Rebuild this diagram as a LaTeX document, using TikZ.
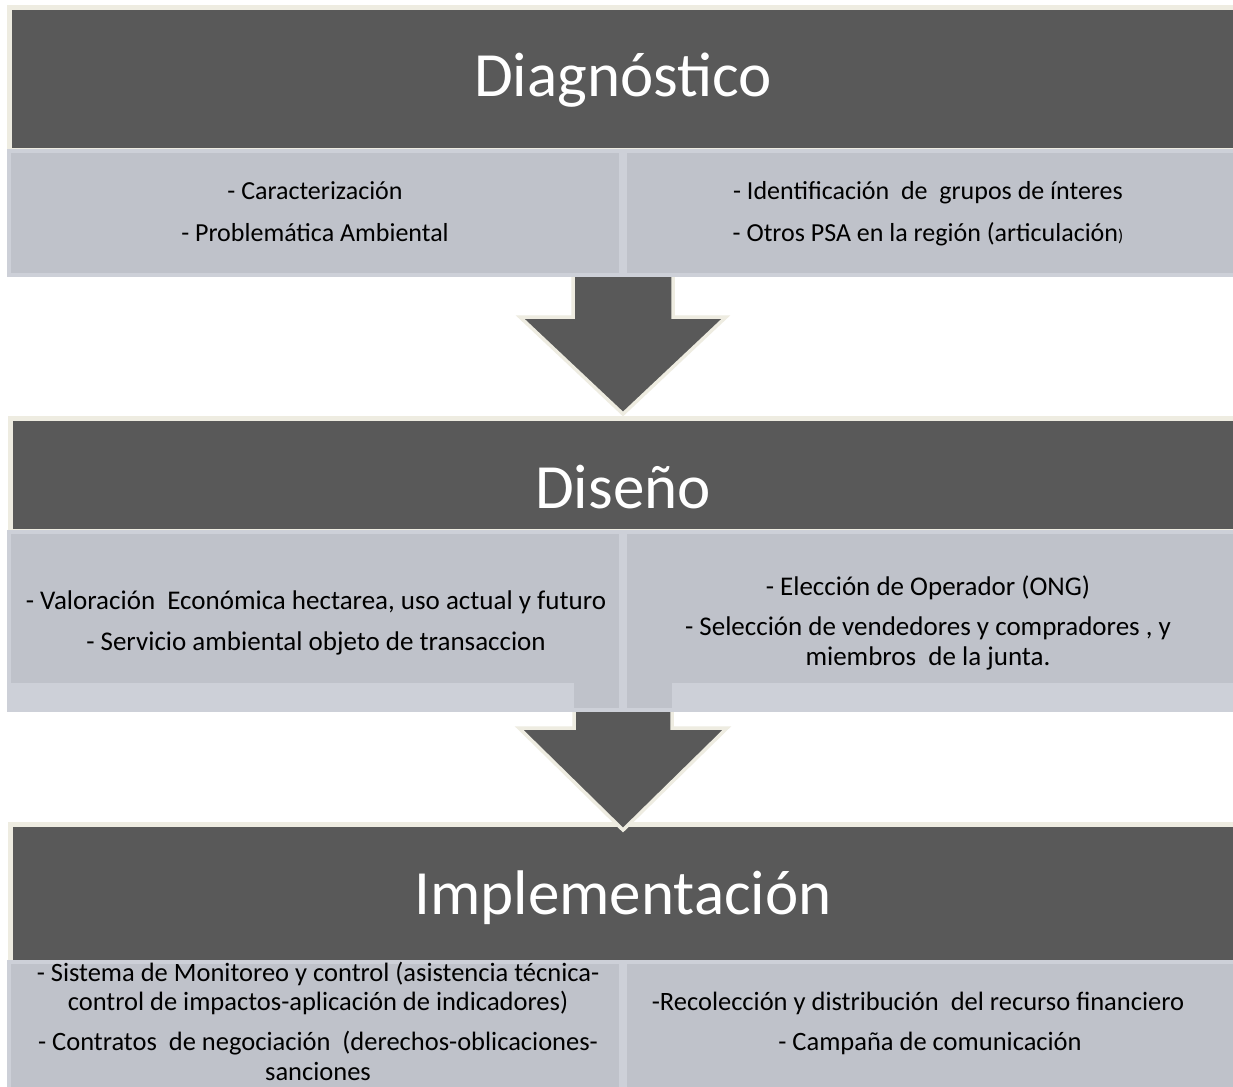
\documentclass[tikz,border=0pt]{standalone}
\usepackage{fontspec}
\setmainfont{Carlito}
\definecolor{darkband}{HTML}{595959}
\definecolor{cream}{HTML}{EEECE1}
\definecolor{lightfill}{HTML}{BFC2CA}
\definecolor{lightedge}{HTML}{CDD0D8}
\tikzset{
  darkbox/.style={fill=darkband, draw=cream, line width=5pt},
  lightbox/.style={fill=lightfill, draw=lightedge, line width=4pt},
  lightstrip/.style={fill=lightedge, draw=none},
  blockarrow/.style={fill=darkband, draw=none},
  arrowedge/.style={draw=cream, line width=3.5pt, line join=miter},
  title/.style={text=white, font=\fontsize{63}{70}\selectfont, anchor=base, inner sep=0pt},
  bodyA/.style={text=black, font=\fontsize{26}{30}\selectfont, anchor=base, inner sep=0pt},
  bodyB/.style={text=black, font=\fontsize{27}{30}\selectfont, anchor=base, inner sep=0pt},
  bodyC/.style={text=black, font=\fontsize{26.5}{30}\selectfont, anchor=base, inner sep=0pt}
}
\begin{document}
\begin{tikzpicture}[x=1pt,y=-1pt]
\clip (0,0) rectangle (1233,1086);
\fill[white] (0,0) rectangle (1233,1086);

% ---------- Diagnostico ----------
\draw[darkbox] (9.5,7.5) rectangle (1245,151);
\draw[lightbox] (9,151) rectangle (621,275);
\draw[lightbox] (625,151) rectangle (1245,275);

% ---------- Diseno band ----------
\draw[darkbox] (10.5,418) rectangle (1245,531);

% arrow 1
\fill[blockarrow] (573,277) -- (573,317) -- (520,317) -- (623,414) -- (726,317) -- (673,317) -- (673,277) -- cycle;
\draw[arrowedge] (573,277) -- (573,317) -- (520,317) -- (623,414) -- (726,317) -- (673,317) -- (673,277);

\draw[lightbox] (9,532) rectangle (621,710);
\draw[lightbox] (625,532) rectangle (1245,710);
\fill[lightstrip] (11,683) rectangle (574,708);
\fill[lightstrip] (672,683) rectangle (1245,708);
\fill[lightedge] (621.5,683) rectangle (624.5,710);

% ---------- Implementacion band ----------
\draw[darkbox] (10.5,824.5) rectangle (1245,962);

% arrow 2
\fill[blockarrow] (574,712) -- (574,728) -- (519,728) -- (623,830) -- (727,728) -- (672,728) -- (672,712) -- cycle;
\draw[arrowedge] (574,712) -- (574,728) -- (519,728) -- (623,830) -- (727,728) -- (672,728) -- (672,712);

\draw[lightbox] (9,962) rectangle (621,1100);
\draw[lightbox] (625,962) rectangle (1245,1100);

% ---------- Titles ----------
\node[title] (t1) at (623,97) {Diagnóstico};
\node[title] (t2) at (623,508) {Diseño};
\node[title] (t3) at (623,914) {Implementación};

% ---------- Diagnostico texts ----------
\node[bodyA] (d1) at (315,200) {- Caracterización};
\node[bodyA] (d2) at (315,241) {- Problemática Ambiental};
\node[bodyA] (d3) at (928,200) {- Identificación\ \ de\ \ grupos de ínteres};
\node[bodyA] (d4) at (928,241) {- Otros PSA en la región (articulación{\fontsize{17}{18}\selectfont)}};

% ---------- Diseno texts ----------
\node[bodyB] (s1) at (316,609) {- Valoración\ \ Económica hectarea, uso actual y futuro};
\node[bodyB] (s2) at (316,650) {- Servicio ambiental objeto de transaccion};
\node[bodyB] (s3) at (928,595) {- Elección de Operador (ONG)};
\node[bodyB] (s4) at (928,635) {- Selección de vendedores y compradores , y};
\node[bodyB] (s5) at (928,665) {miembros\ \ de la junta.};

% ---------- Implementacion texts ----------
\node[bodyC] (i1) at (318,981) {- Sistema de Monitoreo y control (asistencia técnica-};
\node[bodyC] (i2) at (318,1010) {control de impactos-aplicación de indicadores)};
\node[bodyC] (i3) at (318,1050) {- Contratos\ \ de negociación\ \ (derechos-oblicaciones-};
\node[bodyC] (i4) at (318,1080) {sanciones};
\node[bodyC] (i5) at (918,1010) {-Recolección y distribución\ \ del recurso financiero};
\node[bodyC] (i6) at (930,1050) {- Campaña de comunicación};
\end{tikzpicture}
\end{document}
